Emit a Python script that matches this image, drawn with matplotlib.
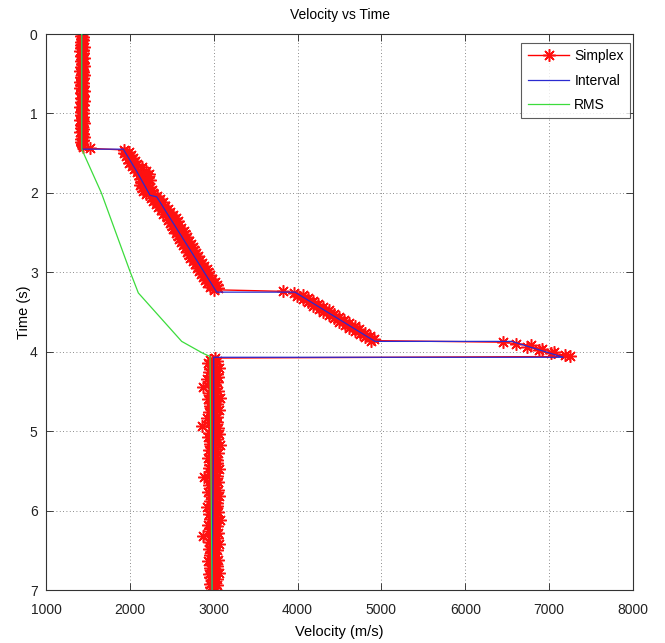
import numpy as np
import matplotlib
matplotlib.use("Agg")
import matplotlib.pyplot as plt

plt.rcParams['font.family'] = ['Liberation Sans', 'DejaVu Sans']

# Simplex velocity picks (m/s), sampled every 20 ms from t = 0 s
DT = 0.02
simplex_layer1 = [
    1431, 1418, 1440, 1425, 1447, 1412, 1433, 1422, 1451, 1420,
    1436, 1409, 1444, 1428, 1417, 1453, 1430, 1414, 1439, 1426,
    1448, 1419, 1434, 1407, 1442, 1425, 1456, 1416, 1437, 1429,
    1411, 1446, 1423, 1438, 1405, 1433, 1449, 1421, 1427, 1443,
    1413, 1435, 1452, 1418, 1430, 1441, 1408, 1426, 1447, 1420,
    1437, 1415, 1444, 1431, 1410, 1439, 1454, 1422, 1428, 1417,
    1445, 1433, 1406, 1440, 1424, 1450, 1419, 1436, 1412, 1431,
    1427, 1440,
]
simplex_step1 = [1525]
simplex_layer2 = [
    1930, 1985, 1925, 2010, 1950, 2040, 1975, 2065, 1990, 2080,
    2030, 2140, 2055, 2190, 2085, 2230, 2110, 2215, 2120, 2240,
    2135, 2200, 2125, 2235, 2150, 2260, 2160, 2280, 2190, 2320,
    2250, 2360, 2280, 2395, 2310, 2420, 2335, 2450, 2370, 2480,
    2400, 2520, 2440, 2545, 2460, 2570, 2480, 2590, 2505, 2615,
    2520, 2640, 2550, 2655, 2570, 2680, 2590, 2700, 2610, 2725,
    2630, 2750, 2660, 2765, 2680, 2790, 2700, 2810, 2720, 2840,
    2750, 2865, 2780, 2890, 2800, 2915, 2825, 2935, 2850, 2960,
    2870, 2985, 2900, 3010, 2925, 3035, 2950, 3055, 3000,
]
simplex_step2 = [3830]
simplex_layer3 = [
    3960, 4060, 3995, 4120, 4070, 4185, 4120, 4240, 4180, 4300,
    4250, 4370, 4300, 4430, 4370, 4490, 4430, 4555, 4490, 4610,
    4560, 4680, 4610, 4735, 4680, 4800, 4740, 4860, 4800, 4910,
    4880,
]
simplex_step3 = [6450]
simplex_layer4 = [6610, 6780, 6740, 6920, 6880, 7060, 7020, 7190, 7250]
simplex_layer5 = [
    3010, 2960, 3045, 2935, 3020, 2975, 3060, 2950, 3000, 2940,
    3035, 2980, 3050, 2920, 2995, 3040, 2955, 3015, 2870, 3030,
    2965, 3055, 2945, 3005, 2985, 3070, 2930, 3025, 2960, 3040,
    2950, 3010, 2975, 3065, 2940, 3020, 2990, 3045, 2925, 3000,
    3035, 2955, 3015, 2860, 3050, 2970, 3030, 2945, 3060, 2985,
    2935, 3040, 2965, 3010, 2950, 3075, 2980, 3025, 2945, 3005,
    3050, 2960, 3020, 2930, 3045, 2990, 3035, 2955, 3000, 2940,
    3060, 2975, 3015, 2950, 3040, 2880, 3030, 2965, 3055, 2985,
    2945, 3025, 2970, 3050, 2935, 3010, 2960, 3065, 2990, 3020,
    2950, 3035, 2975, 3045, 2925, 3015, 2965, 3055, 2940, 3000,
    3030, 2955, 3070, 2980, 3010, 2935, 3040, 2970, 3025, 2945,
    3050, 2990, 2870, 3035, 2960, 3020, 2945, 3060, 2975, 3005,
    2940, 3045, 2965, 3015, 2950, 3030, 2985, 3055, 2930, 3010,
    2970, 3040, 2955, 3025, 2990, 3065, 2945, 3000, 2960, 3035,
    2975, 3020, 2950, 3045, 2965, 3010, 2985,
]

# Interval velocity model (m/s) and its time knots (s)
interval_vel = [1426, 1426, 1922, 2082, 2240, 2320, 3036, 3969, 4923,
                6553, 7169, 3000, 3000, 2980]
interval_time = [0.0, 1.45, 1.45, 1.73, 2.03, 2.05, 3.25, 3.25, 3.87,
                 3.87, 4.07, 4.07, 4.81, 7.0]

# RMS velocity (m/s) and time (s)
rms_vel = [1426, 1426, 1660, 2002, 2101, 2618, 2872, 2956, 2980]
rms_time = [0.0, 1.45, 2.0, 2.99, 3.26, 3.87, 4.02, 4.06, 7.0]

x_ticks = [1000, 2000, 3000, 4000, 5000, 6000, 7000, 8000]
y_ticks = [0, 1, 2, 3, 4, 5, 6, 7]

simplex_vel = np.array(simplex_layer1 + simplex_step1 + simplex_layer2 +
                       simplex_step2 + simplex_layer3 + simplex_step3 +
                       simplex_layer4 + simplex_layer5, dtype=float)
simplex_time = np.arange(len(simplex_vel)) * DT

W, H = 665, 643
fig = plt.figure(figsize=(W / 100, H / 100), dpi=100)
ax = fig.add_axes([46 / W, 1 - 590 / H, (633 - 46) / W, (590 - 34) / H])

asterisk = (8, 2, 0)
ax.plot(simplex_vel, simplex_time, color='#ff0000', lw=1.0,
        marker=asterisk, markersize=9, markeredgewidth=1.1,
        markeredgecolor='#ff1010', label='Simplex', zorder=2)
ax.plot(interval_vel, interval_time, color='#2a2ad0', lw=0.9,
        label='Interval', zorder=3)
ax.plot(rms_vel, rms_time, color='#3cdc3c', lw=0.9, label='RMS', zorder=4)

ax.set_xlim(1000, 8000)
ax.set_ylim(7, 0)
ax.set_xticks(x_ticks)
ax.set_yticks(y_ticks)
ax.tick_params(direction='in', length=5, width=0.6, top=True, right=True,
               labelsize=10, colors='#222222')
ax.tick_params(axis='x', pad=9)
ax.tick_params(axis='y', pad=6)
ax.grid(True, linestyle=(0, (1, 3)), color='#666666', linewidth=0.6)
for sp in ax.spines.values():
    sp.set_linewidth(0.8)
    sp.set_color('#333333')

ax.set_title('Velocity vs Time', fontsize=10, pad=11)
ax.set_xlabel('Velocity (m/s)', fontsize=10.5, labelpad=6)
ax.set_ylabel('Time (s)', fontsize=10.5, labelpad=-1)

# legend box anchored near the upper-right corner of the axes
anchor = ((630 - 46) / (633 - 46), 1 - (43 - 34) / (590 - 34))
leg = ax.legend(loc='upper right', bbox_to_anchor=anchor, fontsize=10,
                frameon=True, fancybox=False, edgecolor='#333333',
                handlelength=3.0, borderpad=0.45, labelspacing=0.75,
                borderaxespad=0.0, handletextpad=0.35)
leg.get_frame().set_linewidth(0.8)

fig.savefig('out.png', dpi=100)
